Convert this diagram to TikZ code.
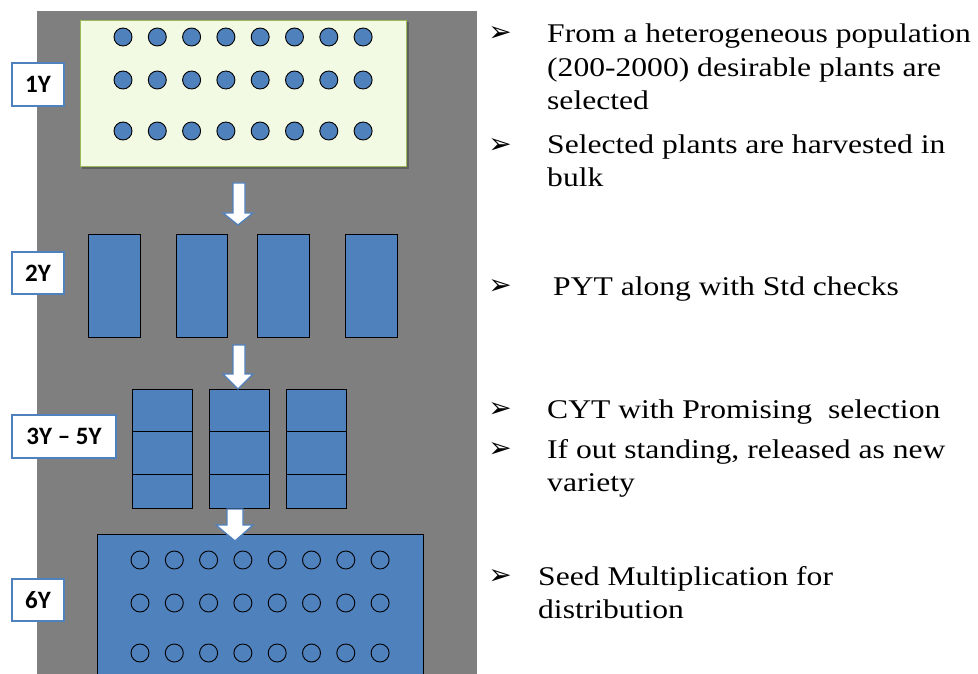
\documentclass[tikz,border=0pt]{standalone}
\usepackage{fontspec}
\setmainfont{Liberation Serif}
\newfontfamily\bodyfont[FakeStretch=1.17]{Liberation Serif}
\newfontfamily\labelfont{Carlito}
\newfontfamily\symfont{DejaVu Sans}
\definecolor{bggray}{HTML}{7F7F7F}
\definecolor{plotblue}{HTML}{4F81BD}
\definecolor{fieldgreen}{HTML}{F2FAE3}
\definecolor{fieldedge}{HTML}{9BBB59}
\tikzset{
  yearlabel/.style={draw=plotblue, line width=2pt, fill=white, inner sep=0pt, anchor=north west,
    font=\labelfont\bfseries\fontsize{25}{27}\selectfont},
  plant/.style={circle, draw=black, fill=plotblue, line width=0.9pt, minimum size=18pt, inner sep=0pt},
  seedring/.style={circle, draw=black, line width=0.9pt, minimum size=18pt, inner sep=0pt},
  plot/.style={draw=black, fill=plotblue, line width=1.1pt, inner sep=0pt, anchor=north west},
  flowarrow/.style={draw=plotblue, fill=white, line width=1.3pt, line join=miter},
  bullet/.style={font=\symfont\fontsize{28}{28}\selectfont, inner sep=0pt},
  item/.style={anchor=base west, inner sep=0pt, align=left,
    font=\bodyfont\fontsize{27}{33.5}\selectfont}
}
\begin{document}
\begin{tikzpicture}[x=1pt,y=-1pt]
\useasboundingbox (0,0) rectangle (978,674);
\fill[white] (0,0) rectangle (978,674);
\fill[bggray] (37,11) rectangle (477,674);

% Year 1 field
\fill[black, opacity=0.25] (82,22) rectangle (409,169);
\node[draw=fieldedge, fill=fieldgreen, line width=1.2pt, minimum width=326pt, minimum height=146pt,
  inner sep=0pt, anchor=north west] (field1) at (80,20) {};
\foreach \i in {0,...,7}
  \foreach \r/\yy in {a/37,b/80,c/131}
    \node[plant] (p\r\i) at ({123+34.3*\i},\yy) {};

% Year 2 plots
\node[plot, minimum width=52pt, minimum height=103pt] (y2a) at (88,234) {};
\node[plot, minimum width=51pt, minimum height=103pt] (y2b) at (176,234) {};
\node[plot, minimum width=52pt, minimum height=103pt] (y2c) at (257,234) {};
\node[plot, minimum width=52pt, minimum height=103pt] (y2d) at (345,234) {};

% Years 3-5 plots
\foreach \c/\xx in {a/132,b/209,c/286}{
  \node[plot, minimum width=60pt, minimum height=42pt] (y3\c1) at (\xx,389) {};
  \node[plot, minimum width=60pt, minimum height=43pt] (y3\c2) at (\xx,431) {};
  \node[plot, minimum width=60pt, minimum height=34pt] (y3\c3) at (\xx,474) {};
}

% Year 6 field
\node[plot, minimum width=326pt, minimum height=160pt] (field6) at (97,534) {};
\foreach \i in {0,...,7}
  \foreach \r/\yy in {a/560,b/603,c/653}
    \node[seedring] (s\r\i) at ({140+34.3*\i},\yy) {};

% block arrows
\draw[flowarrow] (233,183) -- (245,183) -- (245,213) -- (253,213) -- (238,225) -- (223,213) -- (233,213) -- cycle;
\draw[flowarrow] (233,345) -- (245,345) -- (245,374) -- (253,374) -- (238,389) -- (223,374) -- (233,374) -- cycle;
\draw[flowarrow] (227,509) -- (243,509) -- (243,525) -- (253,525) -- (235,541) -- (216,525) -- (227,525) -- cycle;

% year labels
\node[yearlabel, minimum width=52pt, minimum height=43pt] (l1) at (11,62) {1Y};
\node[yearlabel, minimum width=52pt, minimum height=42pt] (l2) at (11,251) {2Y};
\node[yearlabel, minimum width=104pt, minimum height=43pt] (l3) at (11,414) {3Y – 5Y};
\node[yearlabel, minimum width=52pt, minimum height=42pt] (l6) at (11,578) {6Y};

% bullets and texts (anchor is the baseline of the last line)
\node[bullet] (b1) at (500,34) {➢};
\node[item] (t1) at (547,110) {From a heterogeneous population\\(200-2000) desirable plants are\\selected};
\node[bullet] (b2) at (500,146) {➢};
\node[item] (t2) at (547,186.5) {Selected plants are harvested in\\bulk};
\node[bullet] (b3) at (500,287) {➢};
\node[item] (t3) at (553,295) {PYT along with Std checks};
\node[bullet] (b4) at (500,410) {➢};
\node[item] (t4) at (547,418) {CYT with Promising\ \ selection};
\node[bullet] (b5) at (500,450) {➢};
\node[item] (t5) at (547,491.5) {If out standing, released as new\\variety};
\node[bullet] (b6) at (500,577) {➢};
\node[item] (t6) at (538,618.5) {Seed Multiplication for\\distribution};
\end{tikzpicture}
\end{document}
